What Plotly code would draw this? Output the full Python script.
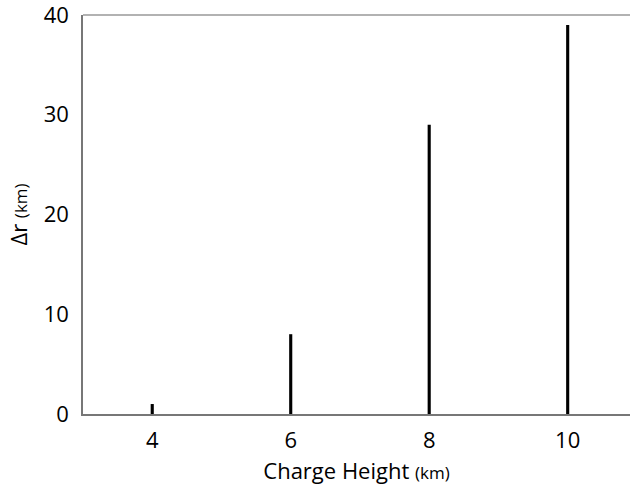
import plotly.graph_objects as go

charge_height = [4, 6, 8, 10]
delta_r = [1, 8, 29, 39]
x_ticks = [4, 6, 8, 10]
y_ticks = [0, 10, 20, 30, 40]

FONT = "Open Sans"

fig = go.Figure()
fig.add_trace(go.Bar(
    x=charge_height, y=delta_r, width=0.045,
    marker=dict(color="black", line=dict(width=0)),
))

fig.update_layout(
    width=631, height=491,
    margin=dict(l=83, r=1, t=15, b=77),
    plot_bgcolor="white", paper_bgcolor="white",
    showlegend=False,
    font=dict(family=FONT, color="black", size=22),
    xaxis=dict(
        range=[3, 10.9], tickvals=x_ticks, ticks="", showgrid=False,
        zeroline=False, showline=True, linecolor="#777777", linewidth=1.5,
        mirror=False, ticklabelstandoff=6, ticklabeloverflow="allow",
        automargin=False,
        title=dict(text="Charge Height <span style='font-size:17px'>(km)</span>",
                   font=dict(size=22), standoff=10),
    ),
    yaxis=dict(
        range=[0, 40], tickvals=y_ticks, ticks="", showgrid=False,
        zeroline=False, showline=True, linecolor="#777777", linewidth=1.5,
        ticklabelstandoff=8, ticklabeloverflow="allow", automargin=False,
        title=dict(text="Δr <span style='font-size:17px'>(km)</span>",
                   font=dict(size=22), standoff=10),
    ),
)
# top border line
fig.add_shape(type="line", xref="paper", yref="paper", x0=0, x1=1, y0=1, y1=1,
              line=dict(color="#999999", width=1.5))

fig.write_html("out.html")
